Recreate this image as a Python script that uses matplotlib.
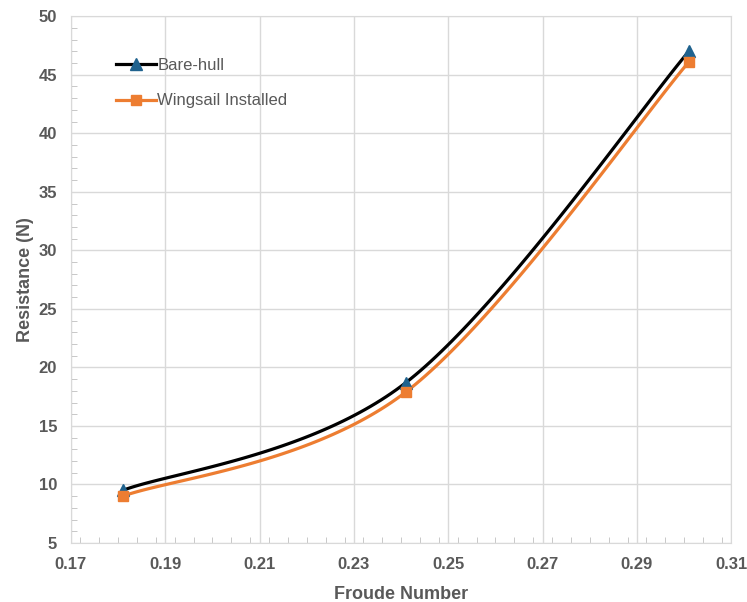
import matplotlib.pyplot as plt
import numpy as np
from matplotlib.ticker import MultipleLocator

froude = [0.181, 0.241, 0.301]
bare_hull = [9.5, 18.7, 47.0]
wingsail = [9.0, 17.9, 46.1]

x_ticks = [0.17, 0.19, 0.21, 0.23, 0.25, 0.27, 0.29, 0.31]
y_ticks = [5, 10, 15, 20, 25, 30, 35, 40, 45, 50]


def smooth(xs, ys, n=60):
    # excel style smoothed line: bezier through the points
    p = np.column_stack([xs, ys]).astype(float)
    ext = np.vstack([p[0], p, p[-1]])
    out = []
    for i in range(len(p) - 1):
        p0, p3 = p[i], p[i + 1]
        c1 = p0 + (ext[i + 2] - ext[i]) / 6
        c2 = p3 - (ext[i + 3] - ext[i + 1]) / 6
        t = np.linspace(0, 1, n)[:, None]
        seg = (1 - t) ** 3 * p0 + 3 * (1 - t) ** 2 * t * c1 + 3 * (1 - t) * t ** 2 * c2 + t ** 3 * p3
        out.append(seg)
    c = np.vstack(out)
    return c[:, 0], c[:, 1]


plt.rcParams['font.family'] = ['Liberation Sans', 'DejaVu Sans']
grey = '#595959'

fig = plt.figure(figsize=(7.47, 6.02), dpi=100)
ax = fig.add_axes([0.095, 0.098, 0.884, 0.875])

sx, sy = smooth(froude, bare_hull)
ax.plot(sx, sy, color='black', lw=2.3, zorder=3)
ax.plot(froude, bare_hull, ls='none', marker='^', ms=8, color='#1f628e', zorder=4)
sx, sy = smooth(froude, wingsail)
ax.plot(sx, sy, color='#ed7d31', lw=2.3, zorder=3)
ax.plot(froude, wingsail, ls='none', marker='s', ms=7.5, color='#ed7d31', zorder=4)

# legend entries
ax.plot([], [], color='black', lw=2.3, marker='^', ms=8, mfc='#1f628e', mec='#1f628e', label='Bare-hull')
ax.plot([], [], color='#ed7d31', lw=2.3, marker='s', ms=7.5, label='Wingsail Installed')
leg = ax.legend(loc='upper left', bbox_to_anchor=(0.045, 0.95), frameon=False, fontsize=12,
                labelspacing=1.25, handlelength=2.4, handletextpad=0.1)
for t in leg.get_texts():
    t.set_color(grey)

ax.set_xlim(0.17, 0.31)
ax.set_ylim(5, 50)
ax.set_xticks(x_ticks)
ax.set_yticks(y_ticks)
ax.set_xticklabels(['%.2f' % v for v in x_ticks])
ax.xaxis.set_minor_locator(MultipleLocator(0.004))
ax.yaxis.set_minor_locator(MultipleLocator(1))
ax.tick_params(which='major', length=0, pad=10, labelsize=12, colors=grey)
ax.tick_params(which='minor', direction='in', length=4, color='#bfbfbf')
for lab in ax.get_xticklabels() + ax.get_yticklabels():
    lab.set_fontweight('bold')

ax.grid(True, color='#d9d9d9', lw=1)
for s in ax.spines.values():
    s.set_color('#d9d9d9')

ax.set_xlabel('Froude Number', fontsize=13, fontweight='bold', color=grey, labelpad=10)
ax.set_ylabel('Resistance (N)', fontsize=13, fontweight='bold', color=grey, labelpad=3)

fig.savefig('out.png', dpi=100)
